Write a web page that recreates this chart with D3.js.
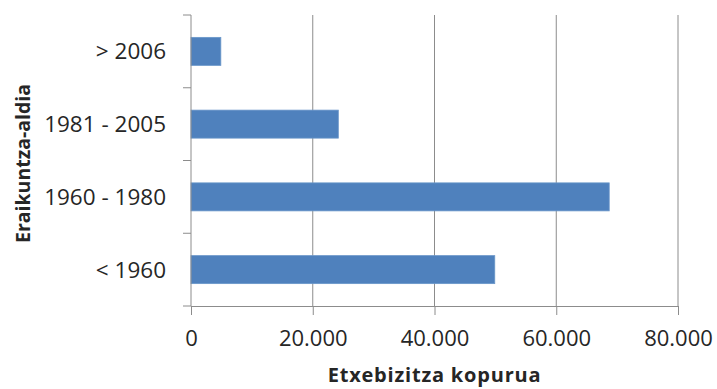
<!DOCTYPE html>
<html>
<head>
<meta charset="utf-8">
<script src="https://cdn.jsdelivr.net/npm/d3@7"></script>
<style>
  body { margin: 0; background: #fff; overflow: hidden; }
  svg { display: block; }
</style>
</head>
<body>
<svg width="717" height="389"></svg>
<script>
const categories = ['> 2006', '1981 - 2005', '1960 - 1980', '< 1960']
const values = [4900, 24200, 68700, 49900]
const xTicks = [0, 20000, 40000, 60000, 80000]
const xTitle = 'Etxebizitza kopurua'
const yTitle = 'Eraikuntza-aldia'

const data = categories.map((c, i) => ({ name: c, value: values[i] }))

const font = "'Open Sans', sans-serif"
const textColor = '#262626'
const lineColor = '#8c8c8c'

const svg = d3.select('svg')
const margin = { top: 15, right: 39, bottom: 83, left: 191 }
const width = +svg.attr('width')
const height = +svg.attr('height')
const innerWidth = width - margin.left - margin.right
const innerHeight = height - margin.top - margin.bottom

const xScale = d3.scaleLinear().domain([0, 80000]).range([0, innerWidth])
const yScale = d3.scaleBand()
  .domain(categories)
  .range([0, innerHeight])
  .paddingInner(0.615)
  .paddingOuter(0.3075)

const fmt = (n) => d3.format(',')(n).replace(/,/g, '.')

const g = svg.append('g')
  .attr('transform', `translate(${margin.left},${margin.top})`)

// vertical gridlines
g.selectAll('line.grid').data(xTicks.slice(1)).enter()
  .append('line')
  .attr('class', 'grid')
  .attr('x1', d => xScale(d)).attr('x2', d => xScale(d))
  .attr('y1', 0).attr('y2', innerHeight)
  .attr('stroke', lineColor)

// bars
g.selectAll('rect.bar').data(data).enter()
  .append('rect')
  .attr('class', 'bar')
  .attr('x', 0)
  .attr('y', d => yScale(d.name))
  .attr('width', d => xScale(d.value))
  .attr('height', yScale.bandwidth())
  .attr('fill', '#4f81bd')
  .attr('stroke', '#6a96c9')
  .attr('stroke-width', 0.8)

// x axis
const xAxis = d3.axisBottom(xScale)
  .tickValues(xTicks)
  .tickSize(9)
  .tickPadding(15)
  .tickFormat(fmt)

const gx = g.append('g')
  .attr('transform', `translate(0,${innerHeight})`)
  .attr('font-family', font)
  .attr('font-size', 22)
  .call(xAxis)
  .attr('font-family', font)
  .attr('font-size', 22)
gx.select('.domain').attr('stroke', lineColor)
gx.selectAll('.tick line').attr('stroke', lineColor)
gx.selectAll('.tick text').attr('fill', textColor)

// y axis: ticks at band boundaries
const boundaries = d3.range(categories.length + 1).map(i => i * innerHeight / categories.length)
g.selectAll('line.ytick').data(boundaries).enter()
  .append('line')
  .attr('class', 'ytick')
  .attr('x1', -8).attr('x2', 0)
  .attr('y1', d => d).attr('y2', d => d)
  .attr('stroke', lineColor)
g.append('line')
  .attr('x1', 0).attr('x2', 0)
  .attr('y1', 0).attr('y2', innerHeight)
  .attr('stroke', lineColor)

g.selectAll('text.ylabel').data(categories).enter()
  .append('text')
  .attr('class', 'ylabel')
  .attr('x', -25)
  .attr('y', d => yScale(d) + yScale.bandwidth() / 2)
  .attr('dy', '0.36em')
  .attr('text-anchor', 'end')
  .attr('font-family', font)
  .attr('font-size', 22.5)
  .attr('fill', textColor)
  .text(d => d)

// titles
svg.append('text')
  .attr('x', margin.left + innerWidth / 2)
  .attr('y', 382)
  .attr('text-anchor', 'middle')
  .attr('font-family', font)
  .attr('font-size', 20)
  .attr('font-weight', 'bold')
  .attr('letter-spacing', 0.8)
  .attr('fill', textColor)
  .text(xTitle)

svg.append('text')
  .attr('transform', `translate(30,${margin.top + innerHeight / 2 + 3}) rotate(-90)`)
  .attr('text-anchor', 'middle')
  .attr('font-family', font)
  .attr('font-size', 19.5)
  .attr('font-weight', 'bold')
  .attr('fill', textColor)
  .text(yTitle)
</script>
</body>
</html>
